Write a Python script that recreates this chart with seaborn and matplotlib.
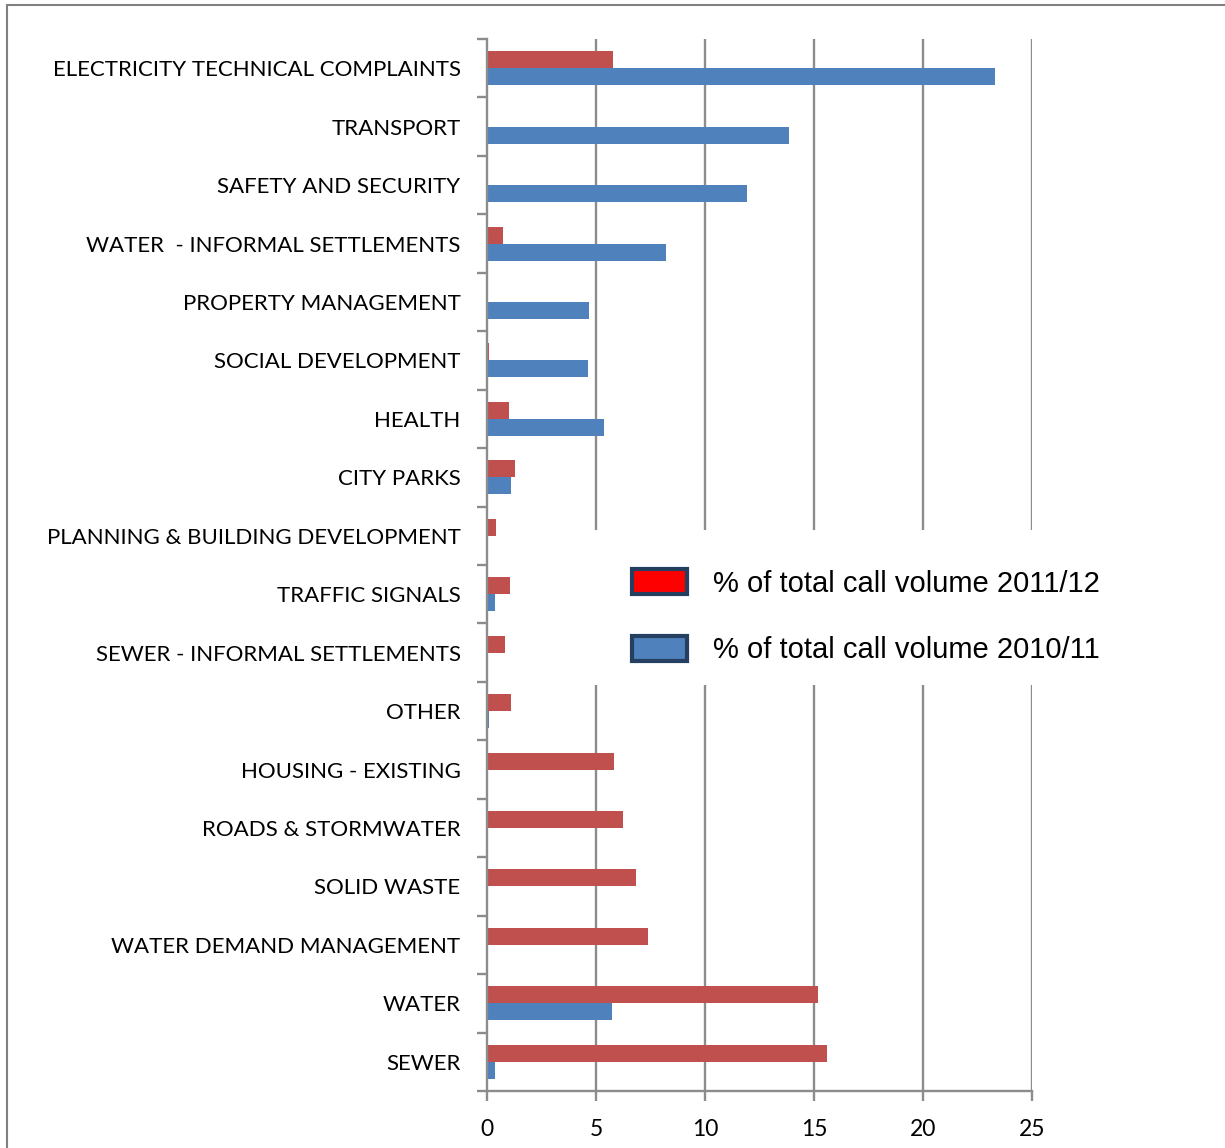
import matplotlib
matplotlib.use("Agg")
import matplotlib.pyplot as plt
import seaborn as sns
import pandas as pd
from matplotlib.patches import Patch, Rectangle

categories = [
    "ELECTRICITY TECHNICAL COMPLAINTS", "TRANSPORT", "SAFETY AND SECURITY",
    "WATER  - INFORMAL SETTLEMENTS", "PROPERTY MANAGEMENT", "SOCIAL DEVELOPMENT",
    "HEALTH", "CITY PARKS", "PLANNING & BUILDING DEVELOPMENT", "TRAFFIC SIGNALS",
    "SEWER - INFORMAL SETTLEMENTS", "OTHER", "HOUSING - EXISTING",
    "ROADS & STORMWATER", "SOLID WASTE", "WATER DEMAND MANAGEMENT", "WATER", "SEWER",
]
vol_2011_12 = [5.78, 0.05, 0.05, 0.73, 0.0, 0.08, 1.0, 1.28, 0.41, 1.05,
               0.83, 1.1, 5.83, 6.24, 6.83, 7.39, 15.18, 15.6]
vol_2010_11 = [23.3, 13.85, 11.93, 8.2, 4.68, 4.63, 5.37, 1.1, 0.0, 0.37,
               0.0, 0.07, 0.0, 0.0, 0.0, 0.0, 5.73, 0.37]
series_names = ["% of total call volume 2011/12", "% of total call volume 2010/11"]
x_ticks = [0, 5, 10, 15, 20, 25]

df = pd.DataFrame({
    "category": categories * 2,
    "value": vol_2011_12 + vol_2010_11,
    "series": [series_names[0]] * len(categories) + [series_names[1]] * len(categories),
})

bar_colors = {series_names[0]: "#C0504D", series_names[1]: "#4F81BD"}

W, H = 1225, 1148
fig = plt.figure(figsize=(W / 100, H / 100), dpi=100)
ax = fig.add_axes([487 / W, 1 - 1091 / H, (1032 - 487) / W, (1091 - 39) / H])

sns.barplot(data=df, x="value", y="category", hue="series", order=categories,
            hue_order=series_names, palette=bar_colors, width=0.58,
            orient="h", ax=ax, legend=False, edgecolor="none", saturation=1)

ax.set_xlim(0, 25)
ax.set_ylim(len(categories) - 0.5, -0.5)
ax.set_xticks(x_ticks)
ax.set_xticklabels([str(t) for t in x_ticks], fontfamily="Lato", fontsize=16.5)
ax.set_xlabel("")
ax.set_ylabel("")

grid_c = "#8C8C8C"
ax.grid(False)
for t in x_ticks[1:]:
    ax.axvline(t, color=grid_c, lw=1.7, zorder=0)

for s in ["top", "right"]:
    ax.spines[s].set_visible(False)
for s in ["left", "bottom"]:
    ax.spines[s].set_color(grid_c)
    ax.spines[s].set_linewidth(1.7)

ax.set_yticks(range(len(categories)))
ax.set_yticklabels(categories, fontfamily="Lato", fontsize=16)
ax.tick_params(axis="y", length=0, pad=19)
ax.set_yticks([i - 0.5 for i in range(len(categories) + 1)], minor=True)
ax.tick_params(axis="y", which="minor", length=7, width=1.7, color=grid_c, direction="out")
ax.tick_params(axis="x", length=7, width=1.7, color=grid_c, direction="out", pad=13)

# white legend area
fig.patches.append(Rectangle((590 / W, 1 - 685 / H), 525 / W, 155 / H,
                             transform=fig.transFigure, facecolor="white",
                             edgecolor="none", zorder=5))

handles = [Patch(facecolor="#FF0000", edgecolor="#243F60", linewidth=3),
           Patch(facecolor="#4F81BD", edgecolor="#243F60", linewidth=3)]
leg = fig.legend(handles, series_names, loc="upper left",
                 bbox_to_anchor=(632 / W, 1 - 569 / H),
                 prop={"family": "Liberation Sans", "size": 21},
                 frameon=False, handlelength=1.9, handleheight=0.95,
                 labelspacing=1.3, handletextpad=0.88, borderpad=0,
                 borderaxespad=0)
leg.set_zorder(10)

fig.patches.append(Rectangle((7 / W, -0.05), 1.1, 1 - 5 / H + 0.05,
                             transform=fig.transFigure, fill=False,
                             edgecolor="#808080", linewidth=1.5))

fig.savefig("out.png", dpi=100)
